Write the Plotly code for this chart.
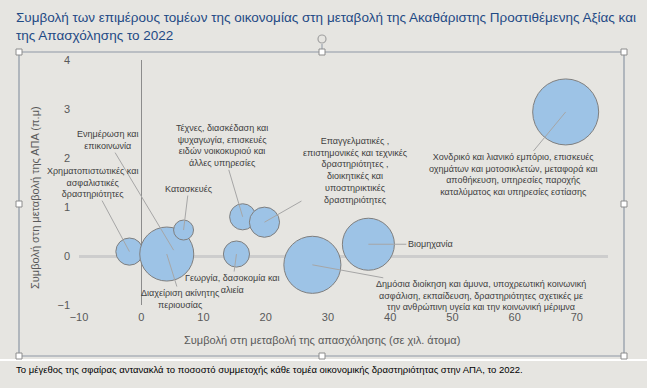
import plotly.graph_objects as go

# ---- data ----
sectors = [
    "Ενημέρωση και<br>επικοινωνία",
    "Χρηματοπιστωτικές και<br>ασφαλιστικές<br>δραστηριότητες",
    "Διαχείριση ακίνητης<br>περιουσίας",
    "Κατασκευές",
    "Τέχνες, διασκέδαση και<br>ψυχαγωγία, επισκευές<br>ειδών νοικοκυριού και<br>άλλες υπηρεσίες",
    "Επαγγελματικές ,<br>επιστημονικές και τεχνικές<br>δραστηριότητες ,<br>διοικητικές και<br>υποστηρικτικές<br>δραστηριότητες",
    "Γεωργία, δασοκομία και<br>αλιεία",
    "Δημόσια διοίκηση και άμυνα, υποχρεωτική κοινωνική<br>ασφάλιση, εκπαίδευση, δραστηριότητες σχετικές με<br>την ανθρώπινη υγεία και την κοινωνική μέριμνα",
    "Βιομηχανία",
    "Χονδρικό και λιανικό εμπόριο, επισκευές<br>οχημάτων και μοτοσικλετών, μεταφορά και<br>αποθήκευση, υπηρεσίες παροχής<br>καταλύματος και υπηρεσίες εστίασης",
]
employment = [5.2, -1.9, 4.1, 6.8, 16.3, 19.8, 15.3, 27.5, 36.5, 68.2]
gva = [0.12, 0.09, 0.04, 0.53, 0.80, 0.69, 0.04, -0.18, 0.24, 2.94]
share = [3.0, 3.9, 15.4, 2.1, 3.6, 4.8, 3.6, 17.2, 14.3, 23.0]
label_offsets = [(-66, -110), (-37, -69), (14, 45), (5, -41), (-21, -71),
                 (91, -52), (-4, 30), (169, 31), (62, 0), (-52, 63)]
x_ticks = [-10, 0, 10, 20, 30, 40, 50, 60, 70]
y_ticks = [-1, 0, 1, 2, 3, 4]

title = ("Συμβολή των επιμέρους τομέων της οικονομίας στη μεταβολή της Ακαθάριστης Προστιθέμενης Αξίας και"
         "<br>της Απασχόλησης το 2022")
x_title = "Συμβολή στη μεταβολή της απασχόλησης (σε χιλ. άτομα)"
y_title = "Συμβολή στη μεταβολή της ΑΠΑ (π.μ)"
footnote = "Το μέγεθος της σφαίρας αντανακλά το ποσοστό συμμετοχής κάθε τομέα οικονομικής δραστηριότητας στην ΑΠΑ, το 2022."

W, H = 647, 388
L, R, T, B = 79, 608, 60, 305
BG = "#e6e5e1"
FONT = "Liberation Sans"

def px(xp):
    return (xp - L) / (R - L)

def py(yp):
    return (B - yp) / (B - T)

fig = go.Figure()
fig.add_trace(go.Scatter(
    x=employment, y=gva, mode="markers",
    marker=dict(size=share, sizemode="area", sizeref=23.0 / (2 * 33 ** 2),
                color="#9dc3e6", line=dict(color="#7f7f7f", width=1), opacity=1),
    hoverinfo="skip", showlegend=False,
))

annotations = []
for name, xv, yv, (ax, ay) in zip(sectors, employment, gva, label_offsets):
    annotations.append(dict(
        x=xv, y=yv, xref="x", yref="y", text=name, showarrow=True,
        ax=ax, ay=ay, arrowhead=0, arrowwidth=1, arrowcolor="#a6a6a6",
        standoff=0, startstandoff=0,
        font=dict(family=FONT, size=9, color="#404040"), align="center",
    ))

# title
annotations.append(dict(text=title, xref="paper", yref="paper", x=px(14), y=py(8),
                        showarrow=False, align="left", xanchor="left", yanchor="top",
                        font=dict(family=FONT, size=13.5, color="#1f4a85")))
# axis titles
annotations.append(dict(text=x_title, xref="paper", yref="paper", x=px(322), y=py(340),
                        showarrow=False, font=dict(family=FONT, size=11, color="#595959"),
                        xanchor="center", yanchor="middle"))
annotations.append(dict(text=y_title, xref="paper", yref="paper", x=px(35), y=py(198),
                        showarrow=False, textangle=-90,
                        font=dict(family=FONT, size=11, color="#595959"),
                        xanchor="center", yanchor="middle"))
# footnote
annotations.append(dict(text=footnote, xref="paper", yref="paper", x=px(14), y=py(369),
                        showarrow=False, font=dict(family=FONT, size=9.5, color="#000000"),
                        xanchor="left", yanchor="middle"))

shapes = []
frame_col = "#8d97a5"
shapes.append(dict(type="line", xref="paper", yref="paper", x0=px(0), x1=px(W), y0=py(360), y1=py(360),
                   line=dict(color="#ffffff", width=2), layer="below"))
shapes.append(dict(type="rect", xref="paper", yref="paper", x0=px(19), x1=px(624), y0=py(356), y1=py(52),
                   line=dict(color=frame_col, width=1.2), layer="above"))
shapes.append(dict(type="line", xref="paper", yref="paper", x0=px(322), x1=px(322), y0=py(44), y1=py(52),
                   line=dict(color=frame_col, width=1)))
shapes.append(dict(type="circle", xref="paper", yref="paper", x0=px(318), x1=px(326), y0=py(43), y1=py(35),
                   line=dict(color="#a0a0a0", width=1.2)))
for hx, hy in [(19, 52), (322, 52), (624, 52), (19, 204), (624, 204), (19, 356), (322, 356), (624, 356)]:
    shapes.append(dict(type="rect", xref="paper", yref="paper",
                       x0=px(hx - 3), x1=px(hx + 3), y0=py(hy + 3), y1=py(hy - 3),
                       fillcolor="#ffffff", line=dict(color="#8c8c8c", width=1), layer="above"))

fig.update_layout(
    width=W, height=H,
    margin=dict(l=L, r=W - R, t=T, b=H - B, pad=0),
    paper_bgcolor=BG, plot_bgcolor=BG,
    xaxis=dict(range=[-10, 75], tickvals=x_ticks, showgrid=False, zeroline=True,
               zerolinecolor="#8c8c8c", zerolinewidth=1, showline=False, ticks="",
               automargin=False,
               tickfont=dict(family=FONT, size=11, color="#595959"), ticklabelstandoff=4),
    yaxis=dict(range=[-1, 4], tickvals=y_ticks, showgrid=False, zeroline=True,
               zerolinecolor="#cdcdcd", zerolinewidth=3, showline=False, ticks="",
               automargin=False,
               tickfont=dict(family=FONT, size=11, color="#595959"), ticklabelstandoff=8),
    annotations=annotations, shapes=shapes,
)

fig.write_html(
    "out.html",
    config={"displayModeBar": False},
    post_script="document.body.style.margin='0';document.body.style.background='%s';"
                "document.body.style.overflow='hidden';" % BG,
)
